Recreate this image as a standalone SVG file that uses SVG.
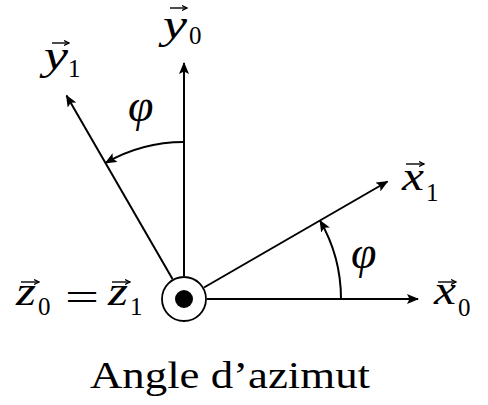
<svg xmlns="http://www.w3.org/2000/svg" width="488" height="405" viewBox="0 0 488 405">
<defs>
<marker id="ah" viewBox="0 0 12 10" refX="11" refY="5" markerWidth="12" markerHeight="10" markerUnits="userSpaceOnUse" orient="auto">
<path d="M0,0 L12,5 L0,10 L2.5,5 Z" fill="#000"/>
</marker>
<marker id="vec" viewBox="0 0 6 6" refX="5.5" refY="3" markerWidth="6" markerHeight="6" markerUnits="userSpaceOnUse" orient="auto">
<path d="M0.5,0.5 L5.5,3 L0.5,5.5" fill="none" stroke="#000" stroke-width="1.2"/>
</marker>
</defs>
<style>
.ax{stroke:#000;stroke-width:2;fill:none;marker-end:url(#ah)}
.v{stroke:#000;stroke-width:1.4;fill:none;marker-end:url(#vec)}
.m{font-family:"Liberation Serif","DejaVu Serif",serif;font-style:italic;font-size:40px;fill:#000}
.p{font-family:"Liberation Serif","DejaVu Serif",serif;font-style:italic;font-size:46px;fill:#000}
.s{font-family:"Liberation Serif","DejaVu Serif",serif;font-size:25px;fill:#000}
.r{font-family:"Liberation Serif","DejaVu Serif",serif;font-size:38px;fill:#000}
</style>
<rect width="488" height="405" fill="#fff"/>
<g id="connectors">
<line class="ax" x1="207" y1="299" x2="418" y2="299"/>
<line class="ax" x1="184" y1="276" x2="184" y2="63"/>
<line class="ax" x1="204" y1="287.5" x2="387.5" y2="181.5"/>
<line class="ax" x1="172.5" y1="279" x2="66.5" y2="95.5"/>
<path class="ax" d="M341,299 A157,157 0 0 0 320,220.5"/>
<path class="ax" d="M184,142 A157,157 0 0 0 105.5,163"/>
</g>
<g id="origin">
<circle cx="184" cy="299" r="22" fill="none" stroke="#000" stroke-width="1.8"/>
<circle cx="184" cy="299" r="9" fill="#000"/>
</g>
<g id="label-x0">
<path class="v" d="M438,282 L456,282"/>
<text class="m" x="434" y="304" textLength="22" lengthAdjust="spacingAndGlyphs">x</text>
<text class="s" x="458" y="316">0</text>
</g>
<g id="label-x1">
<path class="v" d="M406,164 L424,164"/>
<text class="m" x="402" y="190" textLength="22" lengthAdjust="spacingAndGlyphs">x</text>
<text class="s" x="426" y="201">1</text>
</g>
<g id="label-y0">
<path class="v" d="M170,8 L187,8"/>
<text class="m" x="163" y="38" textLength="24" lengthAdjust="spacingAndGlyphs">y</text>
<text class="s" x="189" y="44">0</text>
</g>
<g id="label-y1">
<path class="v" d="M52,43 L69,43"/>
<text class="m" x="44" y="69" textLength="24" lengthAdjust="spacingAndGlyphs">y</text>
<text class="s" x="68" y="77">1</text>
</g>
<g id="label-z">
<path class="v" d="M21,282 L39,282"/>
<text class="m" x="16" y="305" textLength="20" lengthAdjust="spacingAndGlyphs">z</text>
<text class="s" x="38" y="315">0</text>
<text class="r" x="65" y="310" font-size="44px" textLength="34" lengthAdjust="spacingAndGlyphs">=</text>
<path class="v" d="M112,282 L130,282"/>
<text class="m" x="108" y="305" textLength="20" lengthAdjust="spacingAndGlyphs">z</text>
<text class="s" x="130" y="315">1</text>
</g>
<g id="label-phi-y">
<text class="p" x="128" y="121">φ</text>
</g>
<g id="label-phi-x">
<text class="p" x="351" y="268">φ</text>
</g>
<g id="caption">
<text class="r" x="90" y="388" textLength="280" lengthAdjust="spacingAndGlyphs">Angle d’azimut</text>
</g>
</svg>
